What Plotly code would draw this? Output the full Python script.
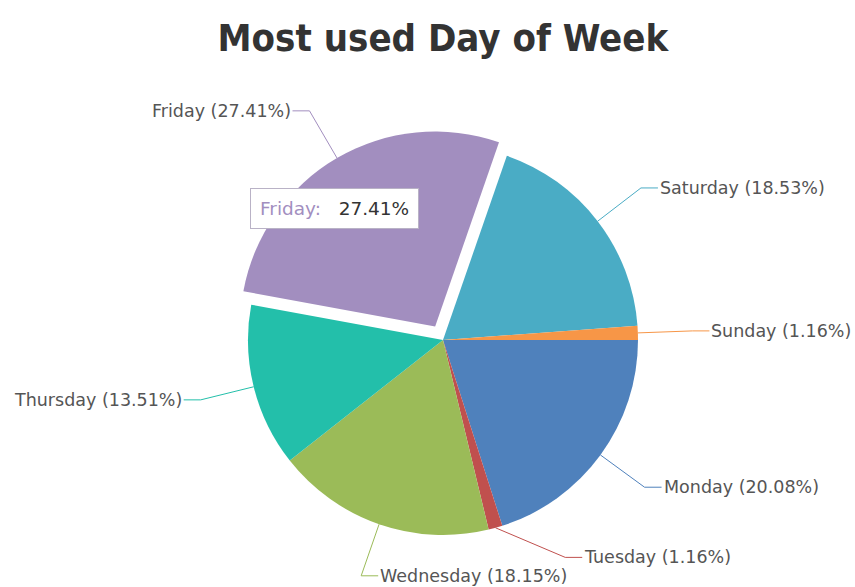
import math
import plotly.graph_objects as go

# Share of usage by day of week (percent)
days = ["Monday", "Tuesday", "Wednesday", "Thursday", "Friday", "Saturday", "Sunday"]
shares = [20.08, 1.16, 18.15, 13.51, 27.41, 18.53, 1.16]
colors = ["#4F81BC", "#C0504E", "#9BBB58", "#23BFAA", "#A28EBF", "#4AACC5", "#F79647"]
exploded = "Friday"
hovered = "Friday"

W, H = 855, 587
CX, CY, R = 443, 340, 195
PULL = 0.08
LABEL_R = 1.28

# label layout tweaks to keep neighbouring labels apart
label_shift = {"Tuesday": (55, -23)}
label_side = {"Wednesday": 1}

pulls = [PULL if d == exploded else 0 for d in days]
half = R * (1 + PULL)

fig = go.Figure(go.Pie(
    labels=days,
    values=shares,
    sort=False,
    direction="clockwise",
    rotation=90,
    pull=pulls,
    marker=dict(colors=colors, line=dict(width=0)),
    textinfo="none",
    hoverinfo="none",
    showlegend=False,
    domain=dict(x=[(CX - half) / W, (CX + half) / W],
                y=[(H - CY - half) / H, (H - CY + half) / H]),
))


def px(x):
    return x / W


def py(y):
    return 1 - y / H


shapes = []
annotations = []
total = sum(shares)
cum = 0.0
for day, val, col in zip(days, shares, colors):
    mid = (cum + val / 2) / total * 2 * math.pi
    cum += val
    dx, dy = math.cos(mid), math.sin(mid)
    cx, cy = CX, CY
    if day == exploded:
        cx += PULL * R * dx
        cy += PULL * R * dy
    ex, ey = cx + R * dx, cy + R * dy
    kx, ky = cx + LABEL_R * R * dx, cy + LABEL_R * R * dy
    sx, sy = label_shift.get(day, (0, 0))
    kx += sx
    ky += sy
    side = label_side.get(day, 1 if dx >= 0 else -1)
    hx = kx + 17 * side
    shapes.append(dict(
        type="path", xref="paper", yref="paper",
        path=f"M {px(ex)},{py(ey)} L {px(kx)},{py(ky)} L {px(hx)},{py(ky)}",
        line=dict(color=col, width=1),
    ))
    annotations.append(dict(
        x=px(hx), y=py(ky), xref="paper", yref="paper",
        text=f"{day} ({val:.2f}%)", showarrow=False,
        xanchor="left" if side > 0 else "right", yanchor="middle",
        font=dict(family="DejaVu Sans", size=17.5, color="#555555"),
    ))

# tooltip for the highlighted slice
hv = shares[days.index(hovered)]
hc = colors[days.index(hovered)]
annotations.append(dict(
    x=px(250), y=py(209), xref="paper", yref="paper",
    text=f"<span style='color:{hc}'>{hovered}:</span>&nbsp;&nbsp;&nbsp;<span style='color:#333333'>{hv:.2f}%</span>",
    showarrow=False, xanchor="left", yanchor="middle",
    bgcolor="white", bordercolor="#b9b2c6", borderwidth=1, borderpad=9,
    font=dict(family="DejaVu Sans", size=18.5),
))

fig.update_layout(
    width=W, height=H,
    margin=dict(l=0, r=0, t=0, b=0),
    paper_bgcolor="white",
    title=dict(text="Most used Day of Week", x=0.518, xanchor="center",
               y=1 - 38 / H, yanchor="middle",
               font=dict(family="DejaVu Sans Condensed", size=38,
                         weight="bold", color="#333333")),
    shapes=shapes,
    annotations=annotations,
)

fig.write_html("out.html")
